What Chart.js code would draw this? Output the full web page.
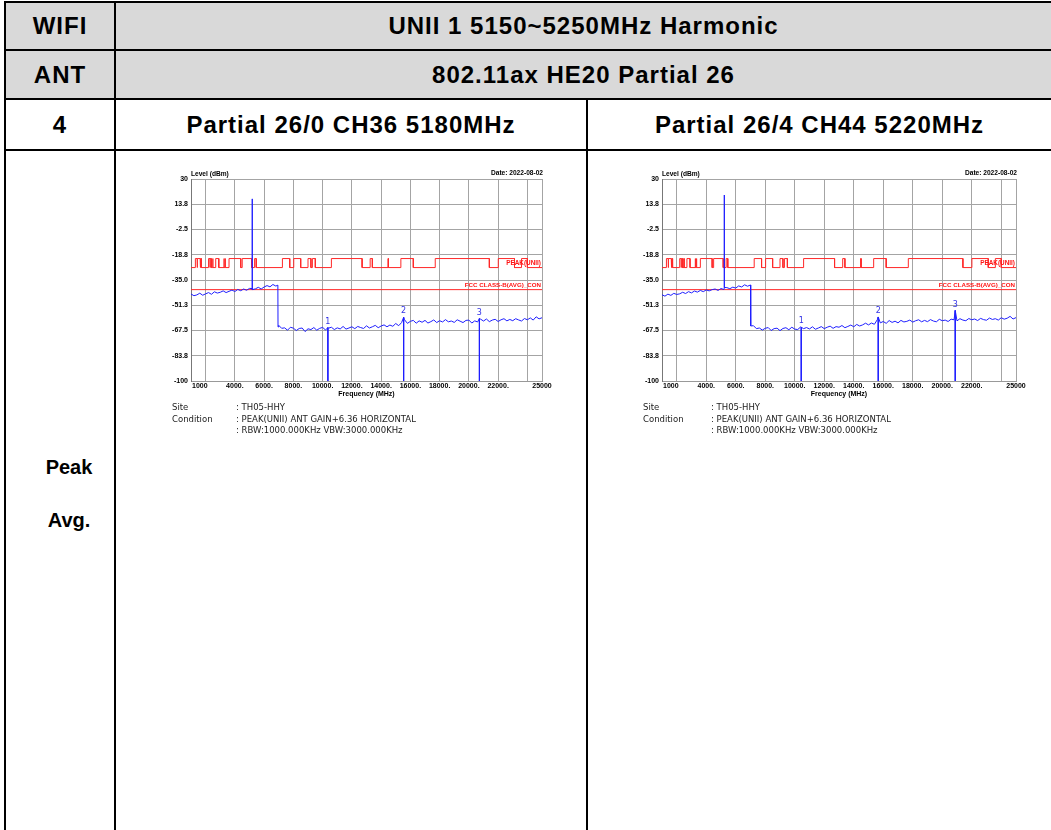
<!DOCTYPE html>
<html>
<head>
<meta charset="utf-8">
<title>UNII 1 Harmonic</title>
<script src="https://cdn.jsdelivr.net/npm/chart.js@4.4.1/dist/chart.umd.min.js"></script>
<style>
  body { margin: 0; width: 1051px; height: 830px; overflow: hidden; background: #fff;
         font-family: "Liberation Sans", Arial, sans-serif; position: relative; }
  .cell { position: absolute; display: flex; align-items: center; justify-content: center;
          font-weight: bold; font-size: 24px; letter-spacing: 1px; color: #000; }
  .gray { background: #d9d9d9; }
  .hl { position: absolute; background: #000; height: 2px; }
  .vl { position: absolute; background: #000; width: 2px; }
  .plot { position: absolute; }
  .info { position: absolute; font-family: "DejaVu Sans", sans-serif; font-size: 8.5px;
          color: #222; white-space: nowrap; line-height: 11.5px; }
  .side { position: absolute; left: 20px; width: 98px; text-align: center; font-weight: bold;
          font-size: 20px; line-height: 53px; }
</style>
</head>
<body>

<div class="cell gray" style="left:6px;top:3px;width:108px;height:46px">WIFI</div>
<div class="cell gray" style="left:116px;top:3px;width:935px;height:46px">UNII 1 5150~5250MHz Harmonic</div>
<div class="cell gray" style="left:6px;top:51px;width:108px;height:47px">ANT</div>
<div class="cell gray" style="left:116px;top:51px;width:935px;height:47px">802.11ax HE20 Partial 26</div>
<div class="cell" style="left:6px;top:100px;width:108px;height:49px">4</div>
<div class="cell" style="left:116px;top:100px;width:470px;height:49px">Partial 26/0 CH36 5180MHz</div>
<div class="cell" style="left:588px;top:100px;width:463px;height:49px">Partial 26/4 CH44 5220MHz</div>
<div class="side" style="top:441px">Peak<br>Avg.</div>

<div class="hl" style="left:4px;top:1px;width:1047px"></div>
<div class="hl" style="left:4px;top:49px;width:1047px"></div>
<div class="hl" style="left:4px;top:98px;width:1047px"></div>
<div class="hl" style="left:4px;top:149px;width:1047px"></div>
<div class="vl" style="left:4px;top:1px;height:829px"></div>
<div class="vl" style="left:114px;top:1px;height:829px"></div>
<div class="vl" style="left:586px;top:98px;height:732px"></div>

<canvas id="ch36" class="plot" width="400" height="245" style="left:160px;top:160px"></canvas>
<canvas id="ch44" class="plot" width="400" height="245" style="left:630px;top:160px"></canvas>

<div class="info" style="left:172px;top:402px">Site<br>Condition</div>
<div class="info" style="left:236px;top:402px">: TH05-HHY<br>: PEAK(UNII) ANT GAIN+6.36 HORIZONTAL<br>: RBW:1000.000KHz VBW:3000.000KHz</div>
<div class="info" style="left:643px;top:402px">Site<br>Condition</div>
<div class="info" style="left:711px;top:402px">: TH05-HHY<br>: PEAK(UNII) ANT GAIN+6.36 HORIZONTAL<br>: RBW:1000.000KHz VBW:3000.000KHz</div>

<script>
// sweep points, 1000 - 25000 MHz every 200 MHz (dBm)
const sweepStart = 1000;
const sweepStep = 200;

const levelsCh36 = [
  -44.0, -45.1, -44.6, -43.5, -44.8, -43.9, -43.1, -44.2, -42.6, -43.4,
  -42.9, -42.0, -43.1, -42.3, -41.5, -42.4, -41.1, -41.9, -40.8, -41.6,
  -40.4, -41.2, -40.7, -39.7, -40.8, -39.5, -38.6, -39.4, -37.9, -38.9,
  -64.2, -66.1, -65.8, -67.3, -65.4, -66.0, -67.5, -66.2, -65.9, -68.2,
  -66.4, -66.9, -65.6, -67.3, -66.1, -65.5, -67.2, -66.0, -65.4, -66.9,
  -65.8, -66.5, -64.9, -66.6, -65.9, -65.1, -66.3, -64.9, -65.6, -66.2,
  -64.5, -65.9, -65.1, -64.2, -65.7, -64.6, -63.9, -65.1, -64.0, -64.8,
  -63.0, -64.4, -62.4, -60.6, -62.9, -61.6, -61.0, -62.8, -61.3, -62.2,
  -61.0, -62.7, -61.8, -60.7, -62.4, -61.2, -62.0, -60.5, -61.9, -61.4,
  -62.3, -60.6, -61.5, -62.4, -61.0, -60.8, -62.7, -61.3, -62.0, -60.2,
  -61.4, -60.1, -61.8, -60.8, -60.3, -61.7, -60.6, -59.9, -61.3, -60.4,
  -61.2, -59.9, -60.7, -61.4, -59.8, -60.6, -59.4, -60.8, -58.7, -60.0,
  -59.3
];

const levelsCh44 = [
  -44.5, -45.4, -44.1, -44.9, -43.6, -44.3, -43.9, -42.9, -43.7, -42.5,
  -43.3, -42.1, -42.8, -41.7, -42.5, -41.4, -42.0, -41.2, -40.8, -41.7,
  -40.5, -41.1, -39.9, -40.6, -39.6, -40.2, -38.8, -39.5, -38.1, -39.0,
  -38.2, -64.4, -66.3, -65.9, -67.2, -66.1, -65.6, -67.5, -66.3, -66.0,
  -67.6, -66.2, -65.7, -67.0, -65.4, -66.6, -66.9, -65.2, -66.3, -65.6,
  -66.5, -65.1, -66.7, -65.9, -65.0, -66.3, -65.4, -64.7, -66.1, -65.0,
  -65.4, -64.3, -65.7, -64.9, -64.0, -65.1, -63.6, -64.6, -63.9, -62.8,
  -63.9, -62.7, -63.5, -60.5, -62.6, -61.7, -62.9, -61.1, -62.3, -61.5,
  -62.6, -61.0, -62.0, -61.6, -60.8, -62.1, -61.2, -60.6, -61.9, -61.0,
  -61.8, -60.5, -61.4, -61.9, -60.3, -61.2, -60.8, -61.7, -60.2, -60.6,
  -61.3, -59.9, -60.8, -61.2, -59.8, -60.6, -60.1, -61.1, -59.7, -60.5,
  -60.9, -59.5, -60.4, -59.9, -60.8, -59.3, -60.2, -59.6, -58.4, -60.1,
  -59.2
];

// carrier spike and the band edge, which fall between sweep points
const extraCh36 = [[5175, -40.5], [5180, 17.2], [5185, 0.4], [5190, -40.2], [6940, -38.3], [6950, -65.2]];
const extraCh44 = [[5215, -40.4], [5220, 19.7], [5225, -10.3], [5230, -39.8], [7010, -38.2], [7020, -64.6]];

// harmonic markers 1..3
const markerFreqCh36 = [10360, 15540, 20720];
const markerLevelCh36 = [-65.6, -59.0, -59.8];
const markerFreqCh44 = [10440, 15660, 20880];
const markerLevelCh44 = [-65.4, -58.8, -54.6];

// 15.205 restricted bands (MHz) inside the sweep
const restrictedBands = [
  [1300, 1427], [1435, 1626.5], [1645.5, 1646.5], [1660, 1710], [1718.8, 1722.2],
  [2200, 2300], [2310, 2390], [2483.5, 2500], [2690, 2900], [3260, 3267],
  [3332, 3339], [3345.8, 3358], [3600, 4400], [4500, 5150], [5350, 5460],
  [7250, 7750], [8025, 8500], [9000, 9200], [9300, 9500], [10600, 12700],
  [13250, 13400], [14470, 14500], [15350, 16200], [17700, 21400], [22010, 23120],
  [23600, 24000]
];
const peakLimitRestricted = -21.2;
const peakLimitOther = -27.0;
const avgLimit = -41.2;

const yTickValues = [30, 13.75, -2.5, -18.75, -35, -51.25, -67.5, -83.75, -100];
const yTickLabels = ['30', '13.8', '-2.5', '-18.8', '-35.0', '-51.3', '-67.5', '-83.8', '-100'];
const xGridValues = [1000, 2000, 4000, 6000, 8000, 10000, 12000, 14000, 16000, 18000, 20000, 22000, 24000, 25000];
const xTickValues = [1000, 4000, 6000, 8000, 10000, 12000, 14000, 16000, 18000, 20000, 22000, 25000];
const xTickLabels = ['1000', '4000.', '6000.', '8000.', '10000.', '12000.', '14000.', '16000.', '18000.', '20000.', '22000.', '25000'];

const dateText = 'Date: 2022-08-02';
const FONT = '"Liberation Sans", Arial, sans-serif';
const BLUE = 'rgb(30,30,255)';
const RED = 'rgb(255,40,40)';

function buildTrace(levels, extra, mFreq, mLevel) {
  const pts = levels.map((v, i) => ({ x: sweepStart + i * sweepStep, y: v }));
  extra.forEach(p => pts.push({ x: p[0], y: p[1] }));
  mFreq.forEach((f, i) => pts.push({ x: f, y: mLevel[i] }));
  return pts.sort((a, b) => a.x - b.x);
}

function buildPeakLimit() {
  const pts = [{ x: 1000, y: peakLimitOther }];
  restrictedBands.forEach(([a, b]) => {
    pts.push({ x: a, y: peakLimitOther }, { x: a, y: peakLimitRestricted },
             { x: b, y: peakLimitRestricted }, { x: b, y: peakLimitOther });
  });
  pts.push({ x: 25000, y: peakLimitOther });
  return pts;
}

// labels around the plot: x ticks, titles, limit names, marker numbers
const plotText = {
  id: 'plotText',
  afterDraw(chart, args, opts) {
    const ctx = chart.ctx;
    const area = chart.chartArea;
    const xs = chart.scales.x;
    const ys = chart.scales.y;
    ctx.save();
    ctx.textBaseline = 'middle';

    ctx.fillStyle = '#000';
    ctx.font = 'bold 7px ' + FONT;
    xTickValues.forEach((v, i) => {
      ctx.textAlign = i === 0 ? 'left' : 'center';
      ctx.fillText(xTickLabels[i], xs.getPixelForValue(v) + (i === 0 ? 1 : 0), area.bottom + 5);
    });
    ctx.textAlign = 'center';
    ctx.fillText('Frequency (MHz)', (area.left + area.right) / 2, area.bottom + 13);

    ctx.font = 'bold 6.6px ' + FONT;
    ctx.textAlign = 'left';
    ctx.fillText('Level (dBm)', area.left, area.top - 5);
    ctx.textAlign = 'right';
    ctx.fillText(dateText, area.right + 1, area.top - 6);

    ctx.fillStyle = 'rgb(255,20,20)';
    ctx.font = 'bold 6.4px ' + FONT;
    const peakY = (ys.getPixelForValue(peakLimitRestricted) + ys.getPixelForValue(peakLimitOther)) / 2;
    ctx.fillText('PEAK(UNII)', area.right - 1, peakY);
    ctx.font = 'bold 6.2px ' + FONT;
    ctx.fillText('FCC CLASS-B(AVG)_CON', area.right - 1, ys.getPixelForValue(avgLimit) - 4);

    ctx.fillStyle = 'rgb(50,50,230)';
    ctx.font = '8px "DejaVu Sans", sans-serif';
    ctx.textAlign = 'center';
    opts.freqs.forEach((f, i) => {
      ctx.fillText(String(i + 1), xs.getPixelForValue(f), ys.getPixelForValue(opts.levels[i]) - 6);
    });
    ctx.restore();
  }
};

function createChart(canvasId, levels, extra, mFreq, mLevel, yWidth, rightPad) {
  const datasets = [
    { data: buildTrace(levels, extra, mFreq, mLevel), borderColor: BLUE, order: 0 },
    { data: buildPeakLimit(), borderColor: RED, order: 2 },
    { data: [{ x: 1000, y: avgLimit }, { x: 25000, y: avgLimit }], borderColor: RED, order: 2 }
  ];
  mFreq.forEach((f, i) => {
    datasets.push({ data: [{ x: f, y: mLevel[i] }, { x: f, y: -100 }], borderColor: BLUE, order: 1 });
  });
  datasets.forEach(d => {
    d.showLine = true;
    d.borderWidth = 1;
    d.pointRadius = 0;
    d.tension = 0;
  });

  return new Chart(document.getElementById(canvasId), {
    type: 'scatter',
    data: { datasets },
    plugins: [plotText],
    options: {
      responsive: false,
      animation: false,
      devicePixelRatio: 1,
      layout: { padding: { left: 0, top: 19, right: rightPad, bottom: 0 } },
      plugins: {
        legend: { display: false },
        tooltip: { enabled: false },
        plotText: { freqs: mFreq, levels: mLevel }
      },
      scales: {
        x: {
          type: 'linear',
          min: 1000,
          max: 25000,
          afterBuildTicks: s => { s.ticks = xGridValues.map(v => ({ value: v })); },
          afterFit: s => { s.height = 24; },
          ticks: { display: false },
          grid: { color: '#a4a4a4', drawTicks: false },
          border: { display: true, color: '#999999' }
        },
        y: {
          min: -100,
          max: 30,
          afterBuildTicks: s => { s.ticks = yTickValues.map(v => ({ value: v })); },
          afterFit: s => { s.width = yWidth; },
          ticks: {
            padding: 3,
            color: '#000',
            font: { family: 'Liberation Sans', size: 7, weight: 'bold' },
            callback: (v, i) => yTickLabels[i]
          },
          grid: { color: '#a4a4a4', drawTicks: false },
          border: { display: true, color: '#777777' }
        }
      }
    }
  });
}

createChart('ch36', levelsCh36, extraCh36, markerFreqCh36, markerLevelCh36, 31, 18);
createChart('ch44', levelsCh44, extraCh44, markerFreqCh44, markerLevelCh44, 32, 14);
</script>
</body>
</html>
